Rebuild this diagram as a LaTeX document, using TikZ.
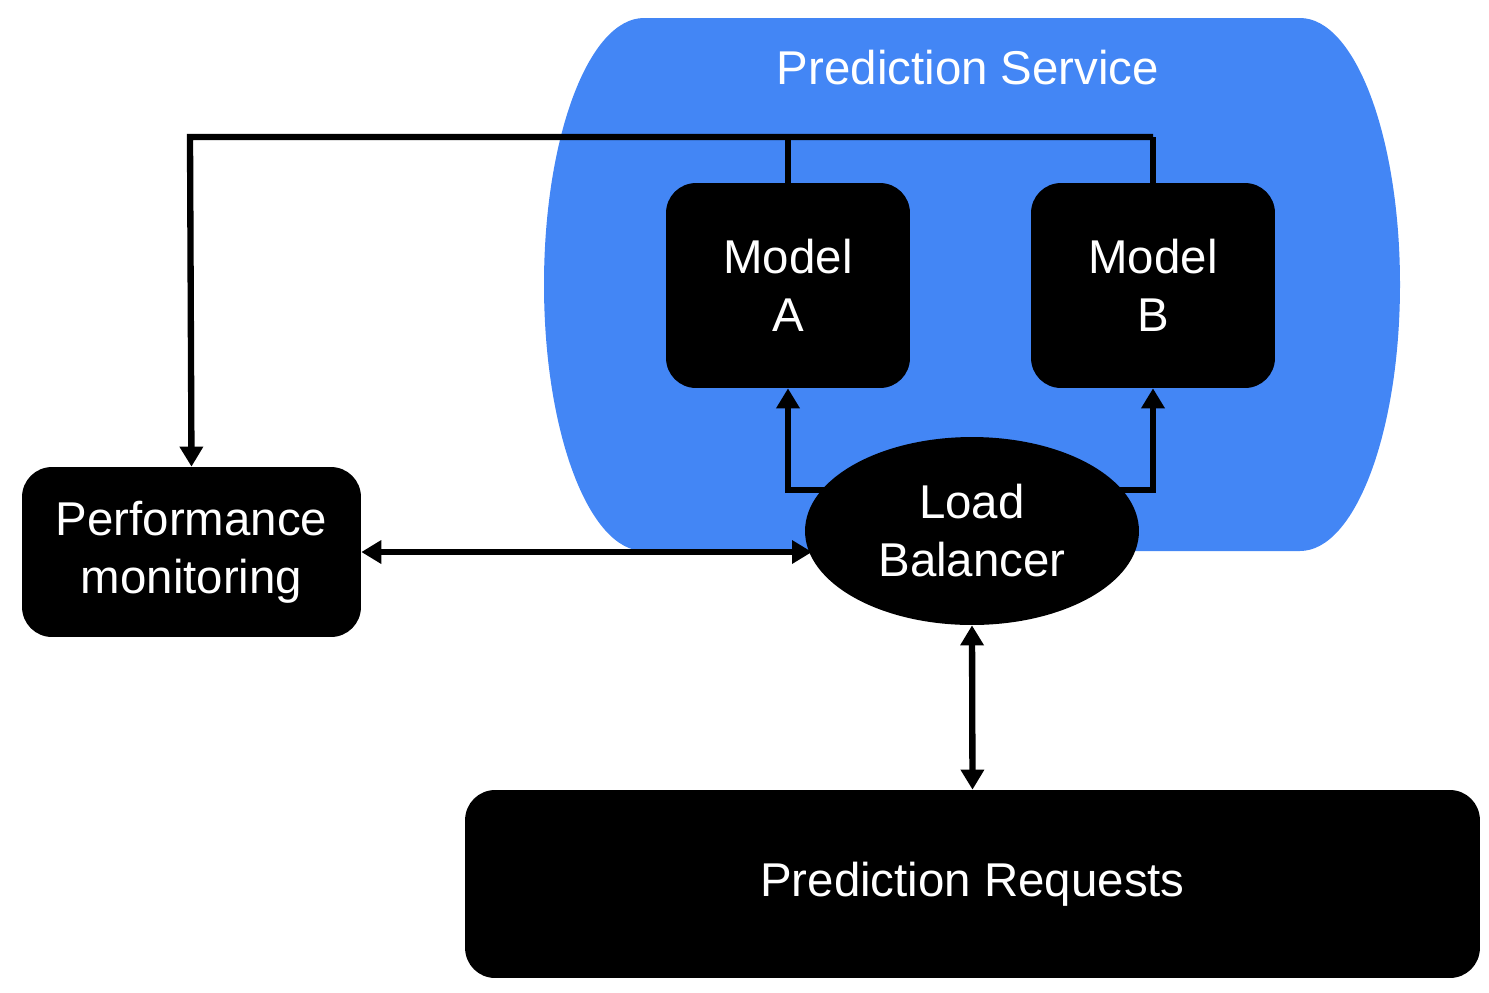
\documentclass[tikz,border=0pt]{standalone}
\usepackage{fontspec}
\setmainfont{Liberation Sans}
\usetikzlibrary{shapes.geometric,arrows.meta}
\definecolor{svc}{HTML}{4386F5}
\begin{document}
\begin{tikzpicture}[x=0.02cm,y=-0.02cm,
  box/.style={fill=black,text=white,rounded corners=0.6cm,align=center,font=\fontsize{27}{33}\selectfont,inner sep=0},
  ln/.style={line width=3.6pt},
  arr/.style={ln,-{Triangle[length=0.4cm,width=0.45cm]}},
  darr/.style={ln,{Triangle[length=0.4cm,width=0.45cm]}-{Triangle[length=0.4cm,width=0.45cm]}}]
\useasboundingbox (0,0) rectangle (1489,992);
\fill[svc] (644,18) -- (1300,18) arc[start angle=-90,end angle=90,x radius=100,y radius=266.5] -- (644,551) arc[start angle=90,end angle=270,x radius=100,y radius=266.5] -- cycle;
\node[text=white,font=\fontsize{27}{33}\selectfont] (title) at (968,68) {Prediction Service};
\node[box,minimum width=4.88cm,minimum height=4.1cm] (A) at (788,285.5) {Model\\A};
\node[box,minimum width=4.88cm,minimum height=4.1cm] (B) at (1153,285.5) {Model\\B};
\node[box,minimum width=6.78cm,minimum height=3.4cm] (P) at (191.5,552) {Performance\\monitoring};
\node[box,minimum width=20.3cm,minimum height=3.76cm] (R) at (972.5,884) {Prediction Requests};
\node[ellipse,fill=black,text=white,align=center,font=\fontsize{27}{33}\selectfont,minimum width=6.68cm,minimum height=3.76cm,inner sep=0] (L) at (972,531) {Load\\Balancer};
\coordinate (ta) at (788,137);
\coordinate (tb) at (1153,137);
\coordinate (tp) at (190,137);
\draw[ln] (A.north) -- (ta);
\draw[ln] (B.north) -- (tb);
\draw[arr] (tb) -- (tp) -- (P.north);
\coordinate (la) at (788,490);
\coordinate (lb) at (1153,490);
\draw[arr] (L.north west |- la) ++(12,0) -- (la) -- (A.south);
\draw[arr] (L.north east |- lb) ++(-12,0) -- (lb) -- (B.south);
\coordinate (le) at (812,552);
\draw[darr] (P.east |- le) -- (le);
\draw[darr] (L.south) -- (R.north);
\end{tikzpicture}
\end{document}
